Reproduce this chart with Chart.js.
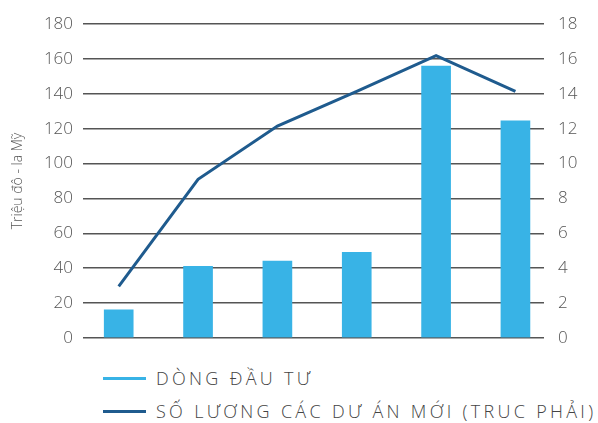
<!DOCTYPE html>
<html lang="vi">
<head>
  <meta charset="UTF-8">
  <title>Dòng đầu tư</title>
  <script src="https://cdn.jsdelivr.net/npm/chart.js"></script>
  <style>
    body { margin: 0; background: #fff; font-family: "Open Sans", sans-serif; }
    #wrap { position: relative; width: 598px; height: 423px; }
    #box { position: absolute; left: 0; top: 0; width: 598px; height: 362px; }
    .leg { position: absolute; left: 103px; display: flex; align-items: center; white-space: nowrap;
           font-size: 18px; letter-spacing: 3.3px; color: #444; font-weight: 300; }
    .leg span.mk { display: inline-block; width: 43px; height: 3px; margin-right: 10px; }
  </style>
</head>
<body>
  <div id="wrap">
    <div id="box"><canvas id="chart"></canvas></div>
    <div class="leg" style="top:366px"><span class="mk" style="background:#38b3e6"></span>DÒNG ĐẦU TƯ</div>
    <div class="leg" style="top:399px"><span class="mk" style="background:#1f5b8e"></span>SỐ LƯƠNG CÁC DƯ ÁN MỚI (TRUC PHẢI)</div>
  </div>

  <script>
    const categories = [0, 1, 2, 3, 4, 5];
    const dongDauTu = [16, 41, 44, 49, 156, 124.5];
    const soLuongDuAn = [2.95, 9.1, 12.15, 14.15, 16.2, 14.15];

    const tickFont = { family: 'Open Sans', size: 17, weight: '300' };
    const pts = arr => arr.map((v, i) => ({ x: categories[i], y: v }));

    new Chart(document.getElementById('chart'), {
      data: {
        datasets: [
          { type: 'line', label: 'SỐ LƯƠNG CÁC DƯ ÁN MỚI (TRUC PHẢI)', data: pts(soLuongDuAn), yAxisID: 'y2',
            borderColor: '#1f5b8e', borderWidth: 3, pointRadius: 0, tension: 0, order: 0 },
          { type: 'bar', label: 'DÒNG ĐẦU TƯ', data: pts(dongDauTu), yAxisID: 'y',
            backgroundColor: '#38b3e6', barThickness: 29, order: 1 }
        ]
      },
      options: {
        responsive: true,
        maintainAspectRatio: false,
        animation: false,
        layout: { padding: { top: 23, bottom: 8, left: 0, right: 0 } },
        plugins: { legend: { display: false }, tooltip: { enabled: false } },
        scales: {
          x: { type: 'linear', display: false, min: -0.45, max: 5.36, offset: false },
          y: {
            position: 'left', min: 0, max: 180,
            ticks: { stepSize: 20, color: '#555', font: tickFont, padding: 10 },
            grid: { color: '#555', lineWidth: 1.5, drawTicks: false },
            border: { display: false },
            title: { display: true, text: 'Triệu đô - la Mỹ', color: '#555',
                     font: { family: 'Open Sans', size: 14, weight: '300' }, padding: { top: 10, bottom: 0 } },
            afterFit: s => { s.width = 83; }
          },
          y2: {
            position: 'right', min: 0, max: 18,
            ticks: { stepSize: 2, color: '#555', font: tickFont, padding: 14 },
            grid: { display: false, drawTicks: false },
            border: { display: false },
            afterFit: s => { s.width = 54; }
          }
        }
      }
    });
  </script>
</body>
</html>
